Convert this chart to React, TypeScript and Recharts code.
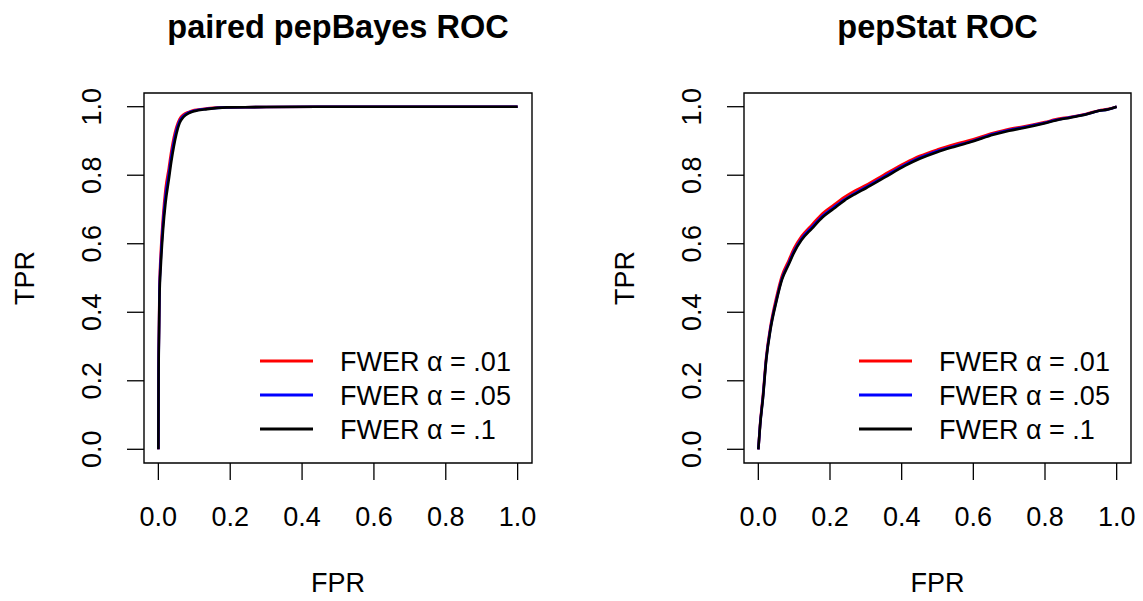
import React from "react";
import {
  LineChart,
  Line,
  XAxis,
  YAxis,
  ReferenceArea,
  Legend,
} from "recharts";

// paired pepBayes ROC (left panel)
const bayesFpr = [0, 0.0005, 0.002, 0.003, 0.007, 0.013, 0.02, 0.029, 0.036, 0.043, 0.05, 0.059, 0.07, 0.085, 0.1, 0.136, 0.19, 0.3, 0.5, 1.0];
const bayesTpr01 = [0, 0.22, 0.38, 0.47, 0.58, 0.68, 0.76, 0.82, 0.87, 0.91, 0.94, 0.964, 0.977, 0.985, 0.99, 0.995, 0.998, 0.999, 1, 1];
const bayesTpr05 = [0, 0.21, 0.365, 0.455, 0.56, 0.66, 0.74, 0.803, 0.855, 0.897, 0.93, 0.958, 0.973, 0.983, 0.988, 0.994, 0.998, 0.999, 1, 1];
const bayesTpr1 = [0, 0.2, 0.35, 0.44, 0.54, 0.64, 0.72, 0.787, 0.84, 0.884, 0.92, 0.952, 0.97, 0.981, 0.987, 0.993, 0.998, 0.999, 1, 1];

// pepStat ROC (right panel)
const statFpr = [0, 0.005, 0.013, 0.022, 0.034, 0.05, 0.066, 0.085, 0.1, 0.12, 0.15, 0.18, 0.21, 0.24, 0.27, 0.3, 0.35, 0.41, 0.45, 0.5, 0.55, 0.6, 0.655, 0.7, 0.74, 0.8, 0.83, 0.87, 0.914, 0.951, 0.975, 1];
const statTpr01 = [0, 0.075, 0.16, 0.27, 0.36, 0.442, 0.507, 0.552, 0.587, 0.621, 0.656, 0.689, 0.713, 0.736, 0.755, 0.771, 0.801, 0.836, 0.856, 0.875, 0.891, 0.905, 0.923, 0.935, 0.942, 0.955, 0.963, 0.97, 0.979, 0.989, 0.993, 1];
const statTpr05 = [0, 0.072, 0.154, 0.264, 0.354, 0.434, 0.499, 0.544, 0.579, 0.614, 0.649, 0.682, 0.706, 0.729, 0.748, 0.765, 0.795, 0.831, 0.851, 0.871, 0.886, 0.901, 0.92, 0.932, 0.94, 0.953, 0.961, 0.969, 0.978, 0.988, 0.992, 1];
const statTpr1 = [0, 0.07, 0.15, 0.26, 0.35, 0.43, 0.495, 0.54, 0.575, 0.61, 0.645, 0.678, 0.702, 0.726, 0.745, 0.762, 0.792, 0.828, 0.848, 0.868, 0.884, 0.899, 0.918, 0.93, 0.938, 0.952, 0.96, 0.968, 0.977, 0.988, 0.992, 1];

const axisTicks = [0, 0.2, 0.4, 0.6, 0.8, 1.0];
const seriesNames = ["FWER α = .01", "FWER α = .05", "FWER α = .1"];
const seriesColors = ["#ff0000", "#0000ff", "#000000"];

const FONT = '"Liberation Sans", Arial, Helvetica, sans-serif';
const FONT_SIZE = 27;
const TICK_SIZE = 17;

const XTick = (props: any) => {
  const { x, y, payload } = props;
  return (
    <text x={x} y={y + 46} textAnchor="middle" fontFamily={FONT} fontSize={FONT_SIZE} fill="#000">
      {payload.value.toFixed(1)}
    </text>
  );
};

const YTick = (props: any) => {
  const { x, y, payload } = props;
  const bx = x - 26;
  return (
    <text
      x={bx}
      y={y}
      transform={`rotate(-90, ${bx}, ${y})`}
      textAnchor="middle"
      fontFamily={FONT}
      fontSize={FONT_SIZE}
      fill="#000"
    >
      {payload.value.toFixed(1)}
    </text>
  );
};

const LegendBox = (props: any) => {
  const { payload } = props;
  return (
    <svg width={300} height={110}>
      {(payload || []).map((entry: any, i: number) => {
        const cy = 21 + i * 34;
        return (
          <g key={entry.value}>
            <line x1={10} x2={63} y1={cy} y2={cy} stroke={entry.color} strokeWidth={3} />
            <text x={90} y={cy + 9.5} fontFamily={FONT} fontSize={FONT_SIZE} fill="#000">
              {entry.value}
            </text>
          </g>
        );
      })}
    </svg>
  );
};

type PanelProps = {
  fpr: number[];
  tprs: number[][];
  width: number;
  marginLeft: number;
  marginRight: number;
  legendLeft: number;
};

const RocPanel: React.FC<PanelProps> = ({ fpr, tprs, width, marginLeft, marginRight, legendLeft }) => {
  const data = fpr.map((x, i) => ({
    fpr: x,
    a01: tprs[0][i],
    a05: tprs[1][i],
    a1: tprs[2][i],
  }));
  const keys = ["a01", "a05", "a1"];

  return (
    <LineChart
      width={width}
      height={601}
      data={data}
      margin={{ top: 93, right: marginRight, left: marginLeft, bottom: 78 }}
    >
      <XAxis
        dataKey="fpr"
        type="number"
        domain={[-0.04, 1.04]}
        ticks={axisTicks}
        allowDataOverflow
        height={60}
        axisLine={false}
        tickLine={{ stroke: "#000", strokeWidth: 1.3 }}
        tickSize={TICK_SIZE}
        tickMargin={0}
        tick={<XTick />}
        interval={0}
        label={{
          content: (p: any) => {
            const vb = p.viewBox;
            return (
              <text x={vb.x + vb.width / 2} y={vb.y + 129} textAnchor="middle" fontFamily={FONT} fontSize={FONT_SIZE} fill="#000">
                FPR
              </text>
            );
          },
        }}
      />
      <YAxis
        type="number"
        domain={[-0.04, 1.04]}
        ticks={axisTicks}
        allowDataOverflow
        width={60}
        axisLine={false}
        tickLine={{ stroke: "#000", strokeWidth: 1.3 }}
        tickSize={TICK_SIZE}
        tickMargin={0}
        tick={<YTick />}
        interval={0}
        label={{
          content: (p: any) => {
            const vb = p.viewBox;
            const bx = vb.x + vb.width - 110;
            const cy = vb.y + vb.height / 2;
            return (
              <text x={bx} y={cy} transform={`rotate(-90, ${bx}, ${cy})`} textAnchor="middle" fontFamily={FONT} fontSize={FONT_SIZE} fill="#000">
                TPR
              </text>
            );
          },
        }}
      />
      {keys.map((k, i) => (
        <Line
          key={k}
          dataKey={k}
          name={seriesNames[i]}
          stroke={seriesColors[i]}
          strokeWidth={2.6}
          dot={false}
          activeDot={false}
          type="monotone"
          isAnimationActive={false}
        />
      ))}
      <ReferenceArea
        x1={-0.04}
        x2={1.04}
        y1={-0.04}
        y2={1.04}
        fill="none"
        stroke="#000"
        strokeWidth={1.4}
        ifOverflow="visible"
      />
      <Legend
        layout="vertical"
        align="center"
        verticalAlign="middle"
        content={<LegendBox />}
        wrapperStyle={{ left: legendLeft, top: 340, width: 300, height: 110 }}
      />
    </LineChart>
  );
};

export default function App() {
  return (
    <div style={{ position: "absolute", left: 0, top: 0, width: 1143, height: 601, background: "#fff" }}>
      <div style={{ position: "absolute", left: 0, top: 0 }}>
        <RocPanel
          fpr={bayesFpr}
          tprs={[bayesTpr01, bayesTpr05, bayesTpr1]}
          width={571}
          marginLeft={84}
          marginRight={39}
          legendLeft={250}
        />
      </div>
      <div style={{ position: "absolute", left: 571, top: 0 }}>
        <RocPanel
          fpr={statFpr}
          tprs={[statTpr01, statTpr05, statTpr1]}
          width={572}
          marginLeft={113}
          marginRight={12}
          legendLeft={278}
        />
      </div>
      <svg width={1143} height={60} style={{ position: "absolute", left: 0, top: 0, pointerEvents: "none" }}>
        <text x={338} y={38} textAnchor="middle" fontFamily={FONT} fontWeight="bold" fontSize={32.5} fill="#000">
          paired pepBayes ROC
        </text>
        <text x={937.5} y={38} textAnchor="middle" fontFamily={FONT} fontWeight="bold" fontSize={32.5} fill="#000">
          pepStat ROC
        </text>
      </svg>
    </div>
  );
}
